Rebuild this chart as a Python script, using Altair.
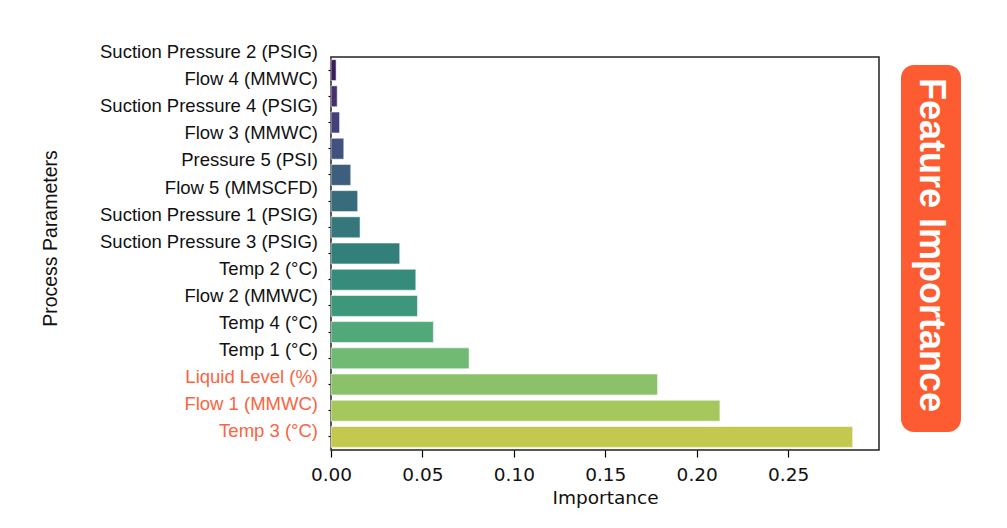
import altair as alt
import pandas as pd

params = [
    "Suction Pressure 2 (PSIG)", "Flow 4 (MMWC)", "Suction Pressure 4 (PSIG)",
    "Flow 3 (MMWC)", "Pressure 5 (PSI)", "Flow 5 (MMSCFD)",
    "Suction Pressure 1 (PSIG)", "Suction Pressure 3 (PSIG)", "Temp 2 (°C)",
    "Flow 2 (MMWC)", "Temp 4 (°C)", "Temp 1 (°C)", "Liquid Level (%)",
    "Flow 1 (MMWC)", "Temp 3 (°C)",
]
importance = [0.0028, 0.0034, 0.0047, 0.0070, 0.0108, 0.0146, 0.0159, 0.0376,
              0.0464, 0.0473, 0.0560, 0.0755, 0.1786, 0.2127, 0.2853]
bar_colors = ["#3b1c5a", "#46316f", "#44407c", "#43517f", "#3e5e7e", "#386b7c",
              "#35777b", "#33807a", "#368b7a", "#3d977a", "#52a878", "#70ba73",
              "#8bc168", "#a6c75b", "#c2c94e"]
highlight = ["Liquid Level (%)", "Flow 1 (MMWC)", "Temp 3 (°C)"]
x_ticks = [0.0, 0.05, 0.10, 0.15, 0.20, 0.25]
badge_text = ["Feature Importance"]

ORANGE = "#fd5c32"
LABEL_ORANGE = "#fa6440"

df = pd.DataFrame({"param": params, "importance": importance})

x_enc = alt.X(
    "importance:Q",
    scale=alt.Scale(domain=[0, 0.2997], nice=False, zero=True),
    axis=alt.Axis(
        values=x_ticks, format=".2f", title="Importance", grid=False,
        domain=False, ticks=True, tickSize=7, tickColor="#000", tickWidth=1.2,
        labelFont="DejaVu Sans", labelFontSize=18.5, labelColor="#111",
        labelPadding=8, labelFlush=False, titleFont="DejaVu Sans",
        titleFontSize=18.5, titleFontWeight="normal", titleColor="#111",
        titlePadding=5,
    ),
)

bars = alt.Chart(df).mark_bar(stroke="white", strokeWidth=1, strokeOpacity=0.55).encode(
    x=x_enc,
    y=alt.Y(
        "param:N", sort=params,
        scale=alt.Scale(paddingInner=0.2, paddingOuter=0.1),
        axis=alt.Axis(labels=False, title=None, domain=False, ticks=True,
                      tickSize=3, tickColor="#000", tickWidth=1.2, orient="left"),
    ),
    color=alt.Color("param:N", sort=params,
                    scale=alt.Scale(domain=params, range=bar_colors), legend=None),
)

label_color = {
    "condition": {
        "test": "indexof(" + str(highlight).replace("'", '"') + ", datum.value) >= 0",
        "value": LABEL_ORANGE,
    },
    "value": "#111",
}

labels = alt.Chart(df).mark_point(opacity=0).encode(
    x=alt.X("importance:Q"),
    y=alt.Y(
        "param:N", sort=params,
        scale=alt.Scale(type="point", range=[-5.3, 373.7], padding=0),
        axis=alt.Axis(
            orient="left", ticks=False, tickSize=0, domain=False, grid=False,
            labelFont="Liberation Sans", labelFontSize=18.5, labelPadding=13.5,
            labelLimit=400, labelColor=label_color,
            title="Process Parameters", titleFont="Liberation Sans",
            titleFontSize=19.5, titleFontWeight="normal", titleColor="#111",
            titleX=-281, titleY=181, titleBaseline="middle", titleAngle=270,
        ),
    ),
)

main = alt.layer(bars, labels).resolve_scale(y="independent").properties(
    width=548, height=393,
    view=alt.ViewBackground(stroke="#222", strokeWidth=1.5),
)

bdf = pd.DataFrame({"text": badge_text})
badge_rect = alt.Chart(bdf).mark_rect(cornerRadius=13, color=ORANGE).encode(
    x=alt.value(0), x2=alt.value(60), y=alt.value(8), y2=alt.value(375)
)
badge_txt = alt.Chart(bdf).mark_text(
    angle=90, font="Liberation Sans", fontWeight="bold", fontSize=36,
    color="white", align="center", baseline="middle",
).encode(x=alt.value(30), y=alt.value(188), text="text:N")

badge = alt.layer(badge_rect, badge_txt).properties(
    width=60, height=393, view=alt.ViewBackground(stroke=None)
)

chart = alt.hconcat(main, badge, spacing=21).properties(
    padding={"left": 31, "top": 33, "right": 5, "bottom": 5}
).configure(background="white")

chart.save("out.html", embed_options={"renderer": "svg", "actions": False})
